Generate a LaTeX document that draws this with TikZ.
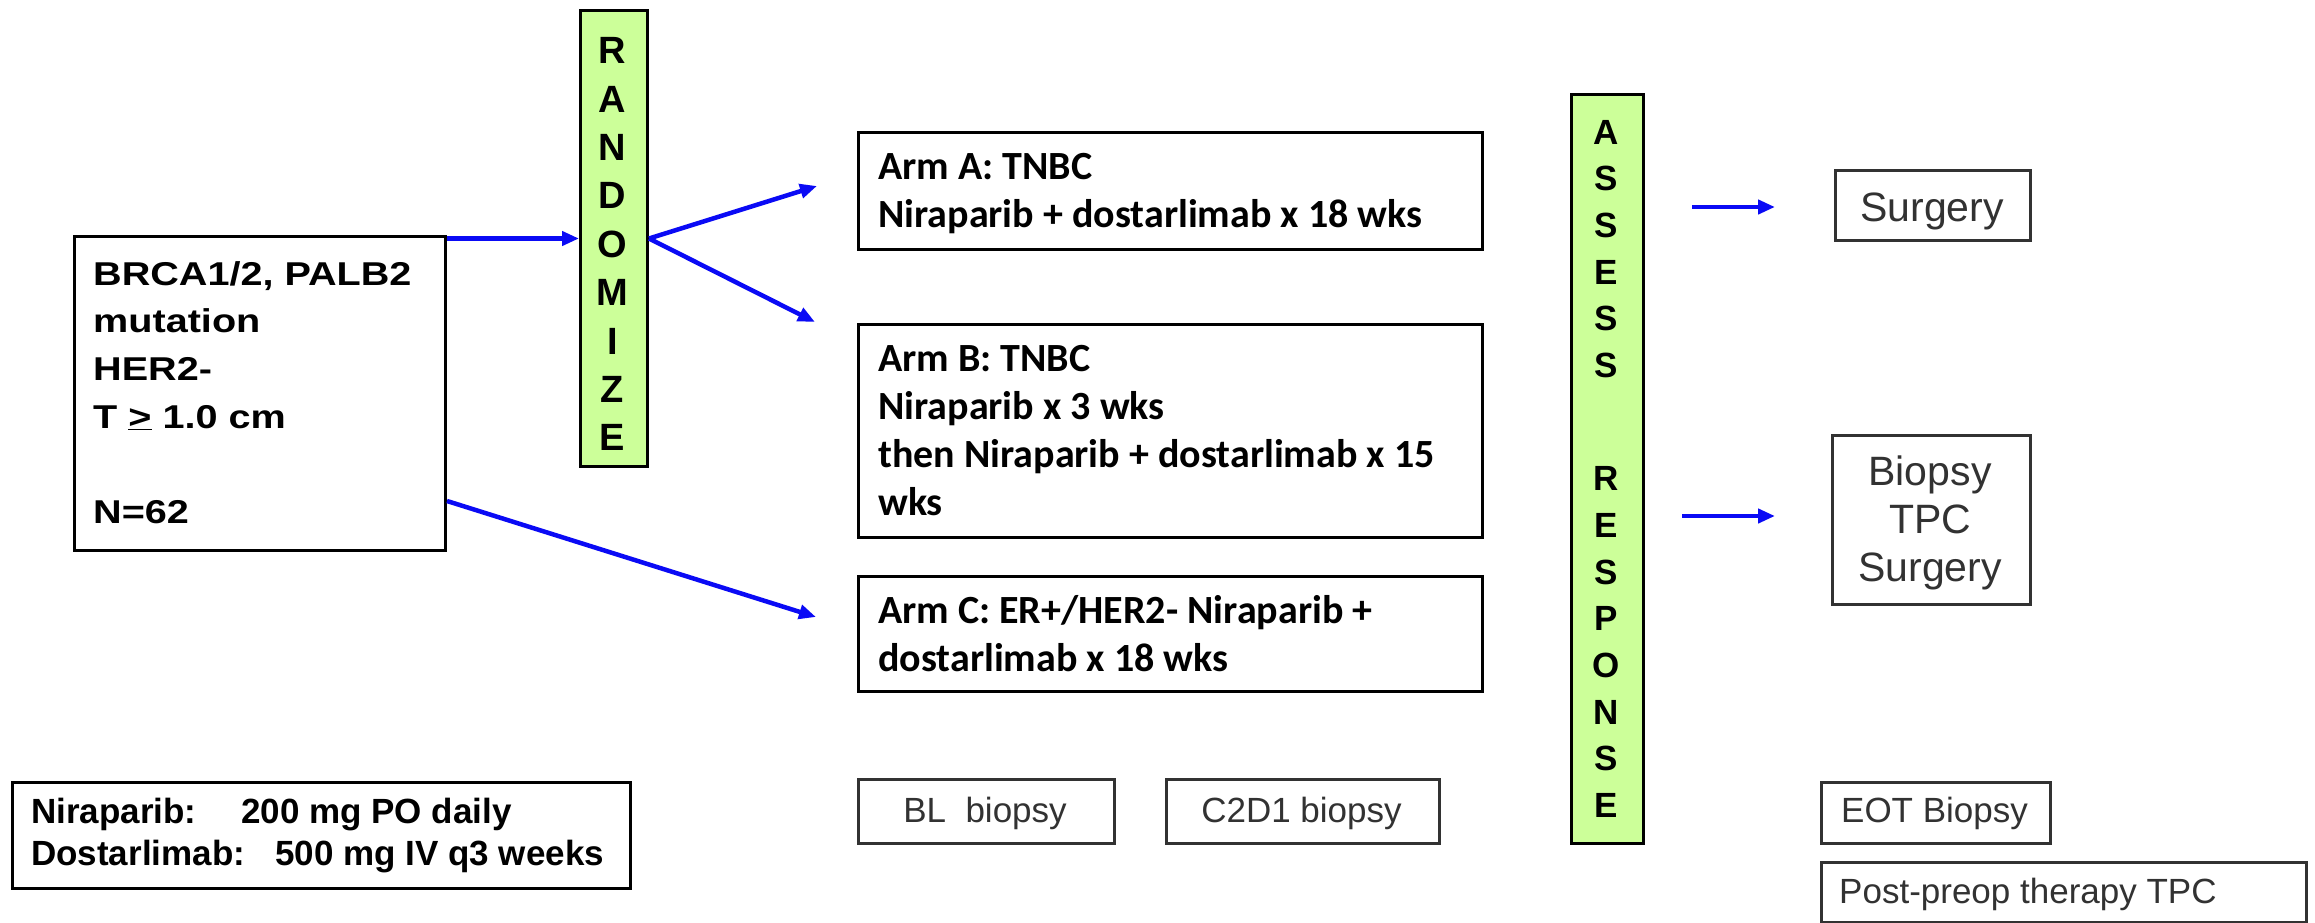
\documentclass[tikz,border=0pt]{standalone}
\usepackage{fontspec}
\setmainfont{Liberation Sans}
\newfontfamily\armfont{Carlito}
\newfontfamily\widesans[FakeStretch=1.2]{Liberation Sans}
\usetikzlibrary{arrows.meta}
\definecolor{randgreen}{RGB}{204,255,153}
\definecolor{flowblue}{RGB}{10,10,245}
\definecolor{darkgraytext}{RGB}{50,50,50}
\tikzset{
  box/.style={draw=black, line width=3pt, fill=white, inner sep=0pt, anchor=north west},
  greybox/.style={box, draw=darkgraytext},
  greenbar/.style={box, fill=randgreen},
  txt/.style={inner sep=0pt, anchor=north west, align=left},
  flow/.style={draw=flowblue, line width=4.5pt, -{Triangle[length=17pt,width=14pt]}},
  eligfont/.style={font=\widesans\bfseries\fontsize{33}{47.6}\selectfont},
  armtext/.style={txt, font=\armfont\bfseries\fontsize{40}{48}\selectfont},
  bigletters/.style={inner sep=0pt, anchor=north, align=center},
  outcome/.style={inner sep=0pt, text=darkgraytext, font=\fontsize{41}{47.75}\selectfont},
  smalllabel/.style={inner sep=0pt, anchor=base, text=darkgraytext, font=\fontsize{35}{42}\selectfont},
}
\begin{document}
\begin{tikzpicture}[x=1pt,y=-1pt]
\useasboundingbox (0,0) rectangle (2315,923);
\fill[white] (0,0) rectangle (2315,923);

% eligibility box
\node[box, minimum width=371pt, minimum height=314pt] (elig) at (73,235) {};
\node[txt, eligfont] (eligtxt) at (93,251.7)
  {\strut BRCA1/2, PALB2\\mutation\\HER2-\\T \underline{>} 1.0 cm\\[47.6pt]N=62};

% randomisation bar
\node[greenbar, minimum width=67pt, minimum height=456pt] (rand) at (579,9) {};
\node[bigletters, font=\bfseries\fontsize{38}{48.4}\selectfont] (randtxt) at (612.5,29.7)
  {\strut R\\A\\N\\D\\O\\M\\I\\Z\\E};

% treatment arms
\node[box, minimum width=624pt, minimum height=117pt] (armA) at (857,131) {};
\node[armtext] (armAtxt) at (878,145.4) {\strut Arm A: TNBC\\Niraparib + dostarlimab x 18 wks};
\node[box, minimum width=624pt, minimum height=213pt] (armB) at (857,323) {};
\node[armtext] (armBtxt) at (878,337.4)
  {\strut Arm B: TNBC\\Niraparib x 3 wks\\then Niraparib + dostarlimab x 15\\wks};
\node[box, minimum width=624pt, minimum height=115pt] (armC) at (857,575) {};
\node[armtext] (armCtxt) at (878,589.4) {\strut Arm C: ER+/HER2- Niraparib +\\dostarlimab x 18 wks};

% response assessment bar
\node[greenbar, minimum width=72pt, minimum height=749pt] (assess) at (1570,93) {};
\node[bigletters, font=\bfseries\fontsize{35}{46.7}\selectfont] (assesstxt) at (1606,111.3)
  {\strut A\\S\\S\\E\\S\\S\\[66.3pt]R\\E\\S\\P\\O\\N\\S\\E};

% outcomes
\node[greybox, minimum width=195pt, minimum height=70pt] (surg) at (1834,169) {};
\node[outcome, anchor=base] (surgtxt) at (1932,221.7) {Surgery};
\node[greybox, minimum width=198pt, minimum height=169pt] (bts) at (1831,434) {};
\node[outcome, anchor=north, align=center] (btstxt) at (1930,452.3) {\strut Biopsy\\TPC\\Surgery};

% dosing
\node[box, minimum width=618pt, minimum height=106pt] (dose) at (11,781) {};
\node[txt, font=\bfseries\fontsize{35}{42}\selectfont] (dosetxt) at (31,794.1)
  {\strut\makebox[210pt][l]{Niraparib:}200 mg PO daily\\\makebox[244pt][l]{Dostarlimab:}500 mg IV q3 weeks};

% biopsy time points
\node[greybox, minimum width=256pt, minimum height=64pt] (bl) at (857,778) {};
\node[smalllabel] (bltxt) at (985,822.5) {BL\ \ biopsy};
\node[greybox, minimum width=273pt, minimum height=64pt] (c2d1) at (1165,778) {};
\node[smalllabel] (c2d1txt) at (1301.5,822.5) {C2D1 biopsy};
\node[greybox, minimum width=229pt, minimum height=61pt] (eot) at (1820,781) {};
\node[smalllabel] (eottxt) at (1934.5,822.5) {EOT Biopsy};
\node[greybox, minimum width=485pt, minimum height=60pt] (post) at (1820,861) {};
\node[smalllabel, anchor=base west] (posttxt) at (1839,903.5) {Post-preop therapy TPC};

% connectors
\coordinate (tipA) at (817,186);
\coordinate (tipB) at (815,322);
\coordinate (tipC) at (816,617);
\coordinate (sA) at (1692,207);
\coordinate (eA) at (1775,207);
\coordinate (sB) at (1682,516);
\coordinate (eB) at (1775,516);
\draw[flow] (rand.west -| elig.east) -- (rand.west);
\draw[flow] (rand.east) -- (tipA);
\draw[flow] (rand.east) -- (tipB);
\draw[flow] ([yshift=51pt]elig.south east) -- (tipC);
\draw[flow] (sA) -- (eA);
\draw[flow] (sB) -- (eB);
\end{tikzpicture}
\end{document}
